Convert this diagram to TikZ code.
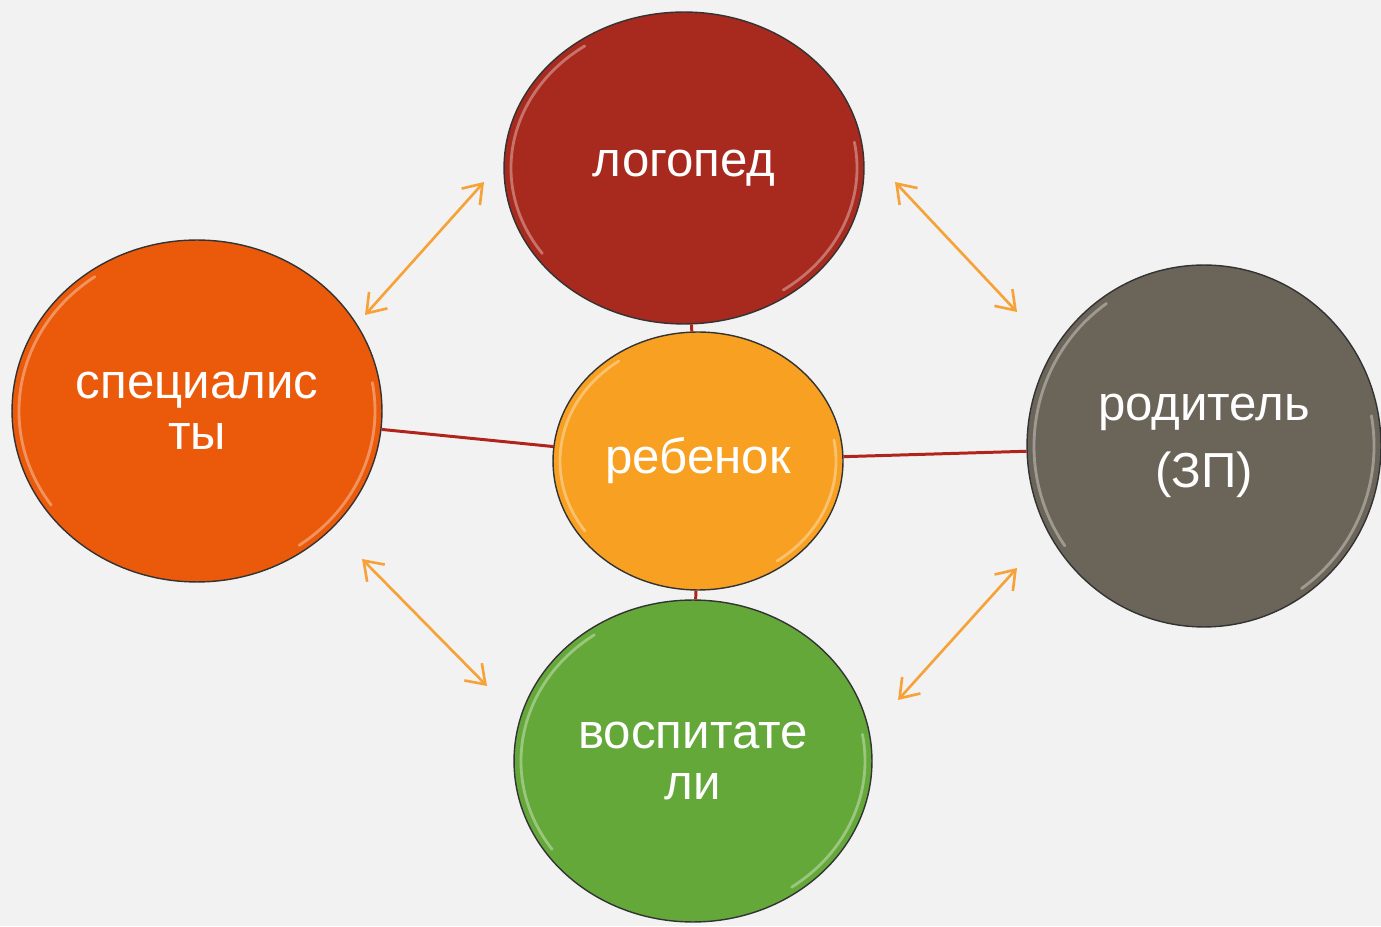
\documentclass[tikz,border=0pt]{standalone}
\usepackage{fontspec}
\setmainfont{Liberation Sans}
\usepackage{tikz}
\usetikzlibrary{shapes.geometric}
\usetikzlibrary{arrows.meta}
\definecolor{bg}{HTML}{F2F2F2}
\definecolor{logred}{HTML}{A8291E}
\definecolor{specorange}{HTML}{EB5A0A}
\definecolor{childorange}{HTML}{F8A021}
\definecolor{parentgray}{HTML}{6B6459}
\definecolor{teachgreen}{HTML}{64A83A}
\definecolor{linkred}{HTML}{B0241C}
\definecolor{arroworange}{HTML}{F7A238}
\tikzset{
  bubble/.style={ellipse, draw=black!80, line width=0.8pt, inner sep=0pt, align=center,
    text=white, font=\fontsize{28}{29}\selectfont},
  gloss/.style={white, opacity=0.35, line width=1.6pt, line cap=round},
  link/.style={linkred, line width=1.7pt},
  biarrow/.style={arroworange, line width=1.5pt, {Straight Barb[length=10pt,width=14pt]}-{Straight Barb[length=10pt,width=14pt]}}
}
\newcommand{\glossrim}[4]{ \draw[gloss] ([shift={( #1 , #2 )}]215:{#3-7} and {#4-7}) arc[start angle=215, end angle=125, x radius=#3-7, y radius=#4-7]; \draw[gloss] ([shift={( #1 , #2 )}]10:{#3-7} and {#4-7}) arc[start angle=10, end angle=-55, x radius=#3-7, y radius=#4-7];}

\begin{document}
\begin{tikzpicture}[x=0.02cm, y=0.02cm]
    \fill[bg] (0,0) rectangle (1381,926);
    \useasboundingbox (0,0) rectangle (1381,926);
    %
    \node[bubble, fill=logred, minimum width=7.2cm, minimum height=6.24cm] (logoped) at (684,758) {логопед};
    \node[bubble, fill=specorange, minimum width=7.4cm, minimum height=6.84cm] (spec) at (197,515) {специалис\\ты};
    \node[bubble, fill=childorange, minimum width=5.8cm, minimum height=5.16cm] (child) at (698,465) {ребенок};
    \node[bubble, fill=parentgray, minimum width=7.08cm, minimum height=7.24cm,
      font=\fontsize{28}{38.5}\selectfont] (parent) at (1204,480) {родитель\\(ЗП)};
    \node[bubble, fill=teachgreen, minimum width=7.16cm, minimum height=6.44cm] (teacher) at (693,165) {воспитате\\ли};
    %
    \glossrim{684}{758}{180}{156}
    \glossrim{197}{515}{185}{171}
    \glossrim{698}{465}{145}{129}
    \glossrim{1204}{480}{177}{181}
    \glossrim{693}{165}{179}{161}
    %
    \draw[link] (spec) -- (child);
    \draw[link] (child) -- (parent);
    \draw[link] (logoped) -- (child);
    \draw[link] (child) -- (teacher);
    %
    \coordinate (a1) at (365,611);
    \coordinate (b1) at (484,744);
    \coordinate (a2) at (895,744);
    \coordinate (b2) at (1017,614);
    \coordinate (a3) at (362,367);
    \coordinate (b3) at (487,240);
    \coordinate (a4) at (1017,358);
    \coordinate (b4) at (898,226);
    \draw[biarrow] (a1) -- (b1);
    \draw[biarrow] (a2) -- (b2);
    \draw[biarrow] (a3) -- (b3);
    \draw[biarrow] (a4) -- (b4);
\end{tikzpicture}
\end{document}
